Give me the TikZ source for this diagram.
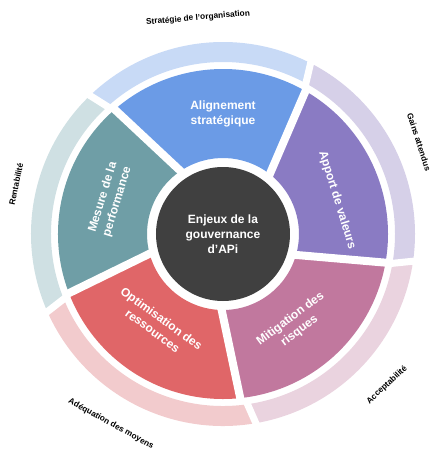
\documentclass[tikz,border=0pt]{standalone}
\usepackage{fontspec}
\setmainfont{Liberation Sans}

\definecolor{alignC}{HTML}{6B9BE6}
\definecolor{alignL}{HTML}{C8DAF6}
\definecolor{apportC}{HTML}{8A7BC3}
\definecolor{apportL}{HTML}{D6D0E8}
\definecolor{mitigC}{HTML}{C1789E}
\definecolor{mitigL}{HTML}{EAD3DF}
\definecolor{optimC}{HTML}{E06668}
\definecolor{optimL}{HTML}{F2CBCD}
\definecolor{mesureC}{HTML}{6F9EA6}
\definecolor{mesureL}{HTML}{CFE0E3}
\definecolor{enjeuxC}{HTML}{404040}

\begin{document}
\begin{tikzpicture}[
    sectorlabel/.style={text=white, font=\bfseries\fontsize{12}{15}\selectfont, align=center},
    outerlabel/.style={text=black, font=\bfseries\fontsize{8.3}{10}\selectfont},
    gap/.style={draw=white, line width=8pt, line cap=rect},
    bandgap/.style={draw=white, line width=7pt}
  ]
  \useasboundingbox (-223pt,-217pt) rectangle (217pt,234pt);

  % inner sectors and outer band
  \foreach \ai/\bi/\gi/\aj/\bj/\gj/\dark/\light in {
      52/60/62/124/131/133/alignC/alignL,
      124/131/133/195/201/203/mesureC/mesureL,
      195/201/203/269/276/279/optimC/optimL,
      269/276/279/344/350/351/mitigC/mitigL,
      344/350/351/412/420/422/apportC/apportL}{
    \fill[\dark] (\ai:76pt) -- (\bi:165pt) arc[start angle=\bi, end angle=\bj, radius=165pt]
      -- (\aj:76pt) arc[start angle=\aj, end angle=\ai, radius=76pt] -- cycle;
    \fill[\light] (\gi:172pt) arc[start angle=\gi, end angle=\gj, radius=172pt]
      -- (\gj:192pt) arc[start angle=\gj, end angle=\gi, radius=192pt] -- cycle;
  }

  % white gaps
  \foreach \a/\b/\g in {52/60/62, 124/131/133, 195/201/203, 269/276/279, 344/350/351}{
    \draw[gap] (\a:76pt) -- (\b:165pt);
    \draw[bandgap] (\g-1:170pt) -- (\g+1:194pt);
  }

  \node[circle, fill=enjeuxC, minimum size=134pt, inner sep=0pt, sectorlabel] (enjeux) at (0,0)
    {Enjeux de la\\gouvernance\\d’APi};

  \node[sectorlabel] (alignement) at (90:120pt) {Alignement\\stratégique};
  \node[sectorlabel, rotate=-73] (apport) at (16.6:119pt) {Apport de valeurs};
  \node[sectorlabel, rotate=37] (mitigation) at (-51.6:116pt) {Mitigation des\\risques};
  \node[sectorlabel, rotate=-36] (optimisation) at (234:112pt) {Optimisation des\\ressources};
  \node[sectorlabel, rotate=73] (mesure) at (163:118pt) {Mesure de la\\performance};

  \node[outerlabel, rotate=5] (strategie) at (-25pt,216pt) {Stratégie de l'organisation};
  \node[outerlabel, rotate=-72] (gains) at (196pt,92pt) {Gains attendus};
  \node[outerlabel, rotate=43] (acceptabilite) at (164pt,-151pt) {Acceptabilité};
  \node[outerlabel, rotate=-29] (adequation) at (-112pt,-190pt) {Adéquation des moyens};
  \node[outerlabel, rotate=78] (rentabilite) at (-207pt,50pt) {Rentabilité};
\end{tikzpicture}
\end{document}
